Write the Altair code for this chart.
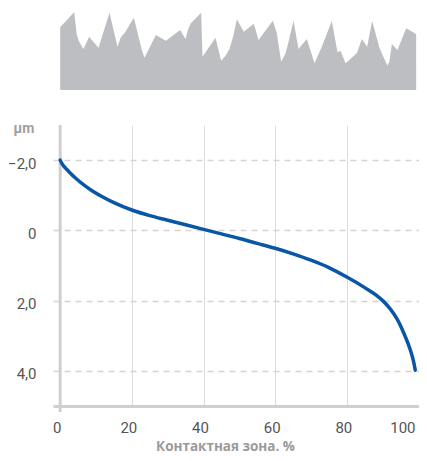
import altair as alt
import pandas as pd

# Bearing (Abbott-Firestone) curve
contact_pct = [0, 0.5, 1, 2, 3, 4.5, 6.5, 9, 11, 15, 20, 25, 30, 35, 40, 45, 50, 55, 60, 65,
               70, 75, 80, 85, 88, 90, 92, 94, 96, 97.7, 98.6, 99.1]
depth_um = [-2.0, -1.9, -1.83, -1.72, -1.61, -1.47, -1.30, -1.12, -1.0, -0.79, -0.58, -0.42,
            -0.29, -0.16, -0.03, 0.10, 0.23, 0.37, 0.51, 0.67, 0.85, 1.06, 1.33, 1.63, 1.83,
            2.0, 2.22, 2.52, 2.95, 3.4, 3.72, 3.98]

# Roughness profile silhouette (heights above baseline)
profile_x = [0, 3.91, 4.65, 5.30, 6.51, 8.09, 10.70, 13.77, 16.0, 16.93, 18.14, 20.56, 22.79, 23.53,
             26.70, 29.49, 33.49, 34.98, 35.81, 36.47, 39.35, 39.72, 43.35, 44.93, 46.14, 47.26,
             48.37, 49.30, 51.26, 54.05, 55.35, 59.35, 60.47, 61.67, 62.79, 63.44, 65.12, 66.51,
             68.84, 70.98, 73.12, 75.81, 77.40, 78.23, 79.63, 82.79, 84.19, 85.67, 87.07, 89.02,
             89.95, 91.35, 91.91, 92.56, 94.14, 96.56, 98.98, 99.35]
profile_h = [62.7, 77.7, 55.0, 48.3, 41.0, 53.3, 42.3, 77.3, 43.3, 52.7, 57.7, 72.3, 40.0, 32.3,
             55.0, 49.3, 60.0, 51.0, 61.7, 66.7, 77.3, 33.3, 52.3, 29.3, 34.3, 41.0,
             55.0, 70.7, 58.3, 66.3, 50.0, 69.3, 56.7, 28.3, 35.7, 44.0, 69.3, 41.0,
             51.0, 26.7, 44.3, 69.0, 37.7, 39.3, 26.7, 36.7, 51.0, 43.3, 69.0, 43.3,
             35.0, 24.3, 29.0, 46.0, 40.0, 61.7, 56.7, 55.5]

y_ticks = [-2, 0, 2, 4]
x_ticks = [0, 20, 40, 60, 80, 100]

curve_df = pd.DataFrame({"x": contact_pct, "y": depth_um})
prof_df = pd.DataFrame({"x": profile_x, "h": profile_h})
axis_df = pd.DataFrame({"x": [0], "y": [-3], "y2": [5.17]})

xscale = alt.Scale(domain=[-2, 100], nice=False, zero=False)
yscale = alt.Scale(domain=[-3, 5], reverse=True, nice=False, zero=False)

x_axis = alt.Axis(
    values=x_ticks, title="Контактная зона. %", grid=True, gridColor="#dcdcdc", gridWidth=1,
    domain=True, domainColor="#cfcfcf", domainWidth=3, ticks=False, labelPadding=14,
    labelOffset=-3.5,
    labelFontSize=15, labelColor="#555555", labelFont="Roboto",
    titleFont="Open Sans", titleFontSize=13.5, titleFontWeight="bold", titleColor="#9a9a9a",
    titleX=172, titleY=44, titleAlign="center", titleBaseline="alphabetic",
)
y_axis = alt.Axis(
    values=y_ticks, title="μm", grid=True, gridColor="#d4d4d4", gridDash=[6, 5], gridWidth=1.5,
    domain=False, ticks=False, labelPadding=17, labelOffset=3,
    labelExpr="datum.value == 0 ? '0' : replace(format(datum.value, '.1f'), '.', ',')",
    labelFontSize=15, labelColor="#555555", labelFont="Roboto",
    titleFont="Roboto", titleFontSize=14, titleFontWeight="bold", titleColor="#a0a0a0",
    titleAngle=0, titleAlign="left", titleBaseline="middle", titleX=-40, titleY=3,
)

curve = alt.Chart(curve_df).mark_line(
    color="#0a56a6", strokeWidth=3.5, interpolate="monotone", strokeCap="round"
).encode(
    x=alt.X("x:Q", scale=xscale, axis=x_axis),
    y=alt.Y("y:Q", scale=yscale, axis=y_axis),
)

yrule = alt.Chart(axis_df).mark_rule(color="#cfcfcf", strokeWidth=3).encode(
    x=alt.X("x:Q", scale=xscale),
    y=alt.Y("y:Q", scale=yscale),
    y2="y2:Q",
)

profile = alt.Chart(prof_df).mark_area(color="#bdbec2", opacity=1, interpolate="linear").encode(
    x=alt.X("x:Q", scale=xscale),
    y=alt.Y("h:Q", scale=alt.Scale(domain=[-316, -35], nice=False, zero=False), axis=None),
    y2=alt.datum(0),
)

main = alt.layer(yrule, curve)
chart = alt.layer(main, profile).resolve_scale(y="independent").properties(
    width=365.5, height=281,
    autosize=alt.AutoSizeParams(type="none"),
    padding={"left": 45, "top": 117, "right": 0, "bottom": 48},
).configure_view(stroke=None)

chart.save("out.html", embed_options={"renderer": "svg", "actions": False})
